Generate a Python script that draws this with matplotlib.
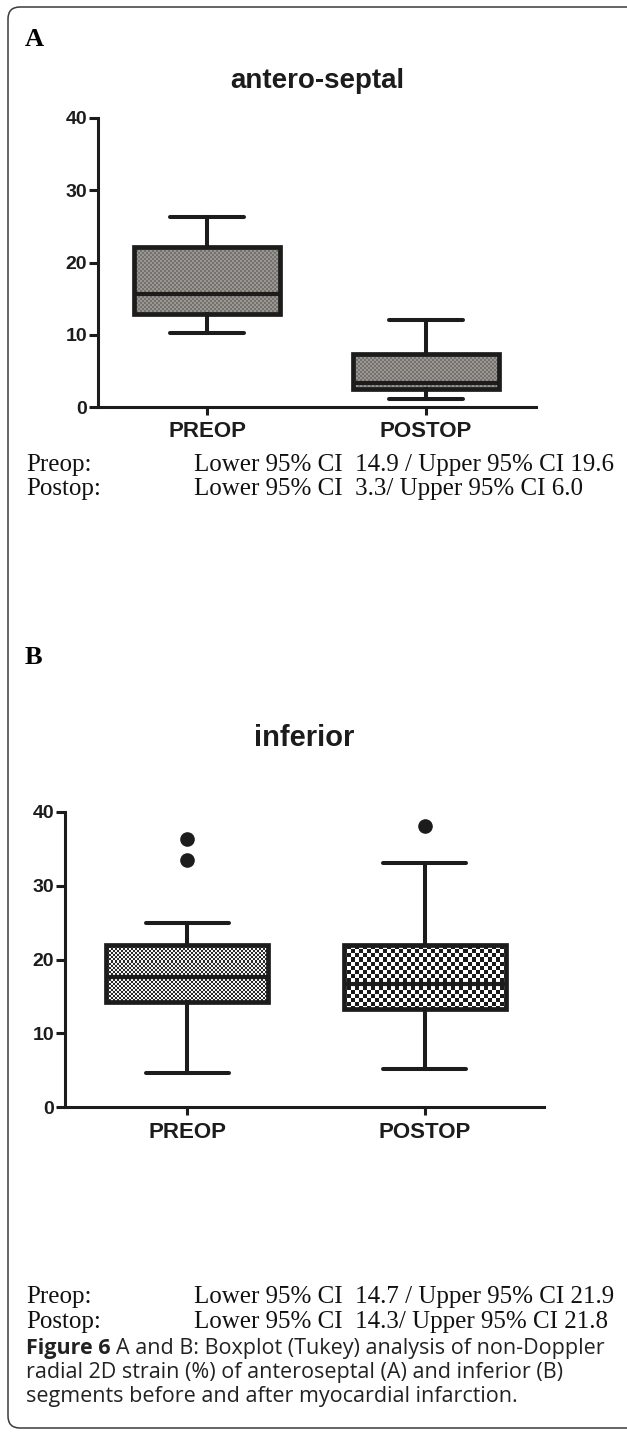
import numpy as np
import matplotlib.pyplot as plt
from matplotlib.colors import to_rgb
from matplotlib.patches import FancyBboxPatch
from matplotlib.transforms import IdentityTransform

W, H = 627, 1432
INK = '#1c1c1c'

groups = ['PREOP', 'POSTOP']
yticks = [0, 10, 20, 30, 40]

# panel A: antero-septal
a_whislo = [10.2, 1.1]
a_q1 = [12.9, 2.5]
a_med = [15.7, 3.3]
a_q3 = [22.1, 7.4]
a_whishi = [26.3, 12.1]
a_fliers = [[], []]

# panel B: inferior
b_whislo = [4.6, 5.2]
b_q1 = [14.2, 13.3]
b_med = [17.6, 16.7]
b_q3 = [21.9, 21.9]
b_whishi = [25.0, 33.1]
b_fliers = [[36.4, 33.5], [38.1]]

ci_labels = ['Preop:', 'Postop:']
ci_a = ['Lower 95% CI  14.9 / Upper 95% CI 19.6',
        'Lower 95% CI  3.3/ Upper 95% CI 6.0']
ci_b = ['Lower 95% CI  14.7 / Upper 95% CI 21.9',
        'Lower 95% CI  14.3/ Upper 95% CI 21.8']

caption_bold = 'Figure 6'
caption_lines = ['A and B: Boxplot (Tukey) analysis of non-Doppler',
                 'radial 2D strain (%) of anteroseptal (A) and inferior (B)',
                 'segments before and after myocardial infarction.']


def fig_rect(l, t, r, b):
    return [l / W, 1 - b / H, (r - l) / W, (b - t) / H]


def txt(x, y, s, **kw):
    return fig.text(x / W, 1 - y / H, s, **kw)


def make_stats(whislo, q1, med, q3, whishi, fliers):
    return [dict(whislo=whislo[i], q1=q1[i], med=med[i], q3=q3[i],
                 whishi=whishi[i], fliers=fliers[i]) for i in range(len(whislo))]


def checker(ax, patch, cell, c_dark, c_light, w_px, h_px):
    # rasterised pattern clipped to the box, like the original GraphPad fill
    nx, ny = int(w_px / cell), int(h_px / cell)
    grid = np.add.outer(np.arange(ny), np.arange(nx)) % 2
    rgb = np.where(grid[..., None] == 1, to_rgb(c_dark), to_rgb(c_light))
    x0, x1 = ax.get_xlim()
    y0, y1 = ax.get_ylim()
    im = ax.imshow(rgb, extent=(x0, x1, y0, y1), aspect='auto',
                   interpolation='nearest', zorder=1.5)
    im.set_clip_path(patch)


def panel(px_box, stats, xlim, width, capw, patterns, xlab_pad):
    l, t, r, b = px_box
    ax = fig.add_axes(fig_rect(l, t, r, b))
    res = ax.bxp(stats, positions=[1, 2], widths=width, capwidths=capw,
                 patch_artist=True, manage_ticks=False,
                 boxprops=dict(facecolor='none', edgecolor=INK, linewidth=3.4),
                 whiskerprops=dict(color=INK, linewidth=2.9),
                 capprops=dict(color=INK, linewidth=2.9, solid_capstyle='round'),
                 medianprops=dict(color=INK, linewidth=3.0),
                 flierprops=dict(marker='o', markerfacecolor=INK,
                                 markeredgecolor=INK, markersize=9.5))
    ax.set_xlim(*xlim)
    ax.set_ylim(0, 40)
    for patch, (cell, c1, c2) in zip(res['boxes'], patterns):
        checker(ax, patch, cell, c1, c2, r - l, b - t)
    ax.set_xlim(*xlim)
    ax.set_ylim(0, 40)
    ax.set_xticks([1, 2], groups)
    ax.set_yticks(yticks)
    for s in ['top', 'right']:
        ax.spines[s].set_visible(False)
    for s in ['left', 'bottom']:
        ax.spines[s].set_linewidth(2.2)
        ax.spines[s].set_color(INK)
    ax.tick_params(axis='y', length=6.5, width=2.2, color=INK, pad=1.5,
                   labelsize=14, labelcolor=INK)
    ax.tick_params(axis='x', length=5.5, width=2.2, color=INK, pad=xlab_pad,
                   labelsize=16, labelcolor=INK)
    plt.setp(ax.get_xticklabels() + ax.get_yticklabels(), fontweight='bold',
             family='Liberation Sans')
    return ax


fig = plt.figure(figsize=(W / 100, H / 100), dpi=100)

# frame around the figure
frame = FancyBboxPatch((8, H - 1428), 640, 1421,
                       boxstyle='round,pad=0,rounding_size=12',
                       transform=IdentityTransform(), fill=False,
                       edgecolor='#3a3a3a', linewidth=1.1)
fig.add_artist(frame)

# panel A
grey = (2, '#75716d', '#9a9693')
stats_a = make_stats(a_whislo, a_q1, a_med, a_q3, a_whishi, a_fliers)
panel((98, 118, 536, 407), stats_a, (0.502, 2.502), 0.667, 0.338,
      [grey, grey], 4.5)
txt(25, 46, 'A', family='Liberation Serif', fontweight='bold', fontsize=19)
txt(317, 88, 'antero-septal', family='Liberation Sans', fontweight='bold',
    fontsize=20, ha='center', va='baseline', color=INK)

# panel B
stats_b = make_stats(b_whislo, b_q1, b_med, b_q3, b_whishi, b_fliers)
panel((65, 812, 544, 1107), stats_b, (0.486, 2.503), 0.682, 0.35,
      [(2, '#2a2a2a', '#f4f4f4'), (4, '#1a1a1a', '#ffffff')], 5.5)
txt(25, 664, 'B', family='Liberation Serif', fontweight='bold', fontsize=19)
txt(304, 746, 'inferior', family='Liberation Sans', fontweight='bold',
    fontsize=21, ha='center', va='baseline', color=INK)

# confidence interval notes
ci_kw = dict(family='Liberation Serif', fontsize=18, va='baseline', color='#111111')
for i, base in enumerate([471, 495]):
    txt(26, base, ci_labels[i], **ci_kw)
    txt(194, base, ci_a[i], **ci_kw)
for i, base in enumerate([1303, 1328]):
    txt(26, base, ci_labels[i], **ci_kw)
    txt(194, base, ci_b[i], **ci_kw)

# caption
cap_kw = dict(family='Open Sans', fontsize=15.5, va='baseline', color='#222222')
renderer = fig.canvas.get_renderer()
t0 = txt(26, 1354, caption_bold, fontweight='bold', **cap_kw)
x_after = t0.get_window_extent(renderer=renderer).x1 + 6
fig.text(x_after / W, 1 - 1354 / H, caption_lines[0], **cap_kw)
txt(26, 1378, caption_lines[1], **cap_kw)
txt(26, 1402, caption_lines[2], **cap_kw)

fig.savefig('out.png', dpi=100)
